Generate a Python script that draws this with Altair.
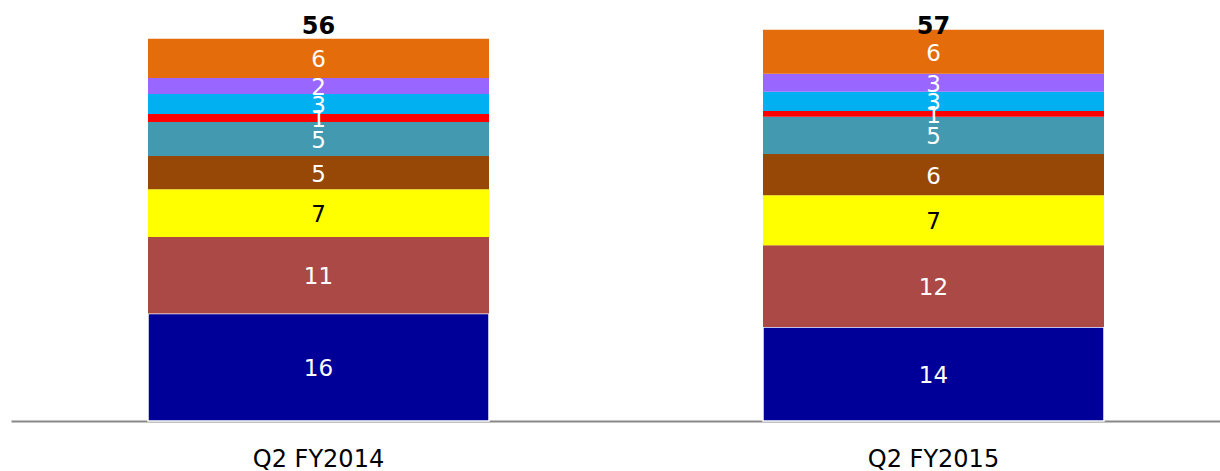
import altair as alt
import pandas as pd

categories = ["Q2 FY2014", "Q2 FY2015"]
series = ["S1", "S2", "S3", "S4", "S5", "S6", "S7", "S8", "S9"]
colors = ["#000099", "#AB4946", "#FFFF00", "#974706", "#4399B0",
          "#FF0000", "#00B0F0", "#9966FF", "#E46C0A"]
text_colors = ["white", "white", "black", "white", "white",
               "white", "white", "white", "white"]
values_2014 = [15.68, 11.18, 6.96, 4.86, 4.96, 1.17, 2.92, 2.34, 5.75]
values_2015 = [13.72, 11.93, 7.30, 6.03, 5.45, 0.82, 2.83, 2.63, 6.42]
labels_2014 = ["16", "11", "7", "5", "5", "1", "3", "2", "6"]
labels_2015 = ["14", "12", "7", "6", "5", "1", "3", "3", "6"]
totals = ["56", "57"]

rows = []
for cat, vals, labs in [(categories[0], values_2014, labels_2014),
                        (categories[1], values_2015, labels_2015)]:
    base = 0.0
    for i, (s, v, l) in enumerate(zip(series, vals, labs)):
        rows.append({"cat": cat, "series": s, "order": i, "y0": base,
                     "y1": base + v, "mid": base + v / 2, "label": l,
                     "tcolor": text_colors[i]})
        base += v
df = pd.DataFrame(rows)

tot_y = max(sum(values_2014), sum(values_2015)) + 0.4
df_tot = pd.DataFrame({"cat": categories, "label": totals, "y": [tot_y, tot_y]})

ymax = 421 / 6.85
xscale = alt.Scale(domain=categories, paddingInner=0.4455, paddingOuter=0.2057, align=0.5415)
yscale = alt.Scale(domain=[0, ymax], nice=False, zero=True)

x = alt.X("cat:N", scale=xscale, sort=categories,
          axis=alt.Axis(title=None, labelAngle=0, ticks=False, grid=False,
                        domainColor="#888888", domainWidth=2,
                        labelFont="DejaVu Sans", labelFontSize=24,
                        labelColor="#000000", labelPadding=26))

bars = alt.Chart(df).mark_bar().encode(
    x=x,
    y=alt.Y("y0:Q", scale=yscale, axis=None),
    y2="y1:Q",
    color=alt.Color("series:N", scale=alt.Scale(domain=series, range=colors), legend=None),
    stroke=alt.condition(alt.datum.series == "S1", alt.value("white"), alt.value("transparent")),
    strokeWidth=alt.value(1.5),
)

seg_text = alt.Chart(df).mark_text(font="DejaVu Sans", fontSize=23, baseline="middle", dy=2).encode(
    x=alt.X("cat:N", scale=xscale, sort=categories),
    y=alt.Y("mid:Q", scale=yscale, axis=None),
    text="label:N",
    color=alt.Color("tcolor:N", scale=None),
)

tot_text = alt.Chart(df_tot).mark_text(font="DejaVu Sans", fontSize=24, fontWeight="bold",
                                       baseline="middle", color="black").encode(
    x=alt.X("cat:N", scale=xscale, sort=categories),
    y=alt.Y("y:Q", scale=yscale, axis=None),
    text="label:N",
)

chart = alt.layer(bars, seg_text, tot_text).properties(
    width=1209, height=421,
    background="white",
    autosize=alt.AutoSizeParams(type="none"),
    padding={"left": 11, "top": 0, "right": 0, "bottom": 50},
).configure_view(strokeWidth=0, stroke="transparent")

chart.save("out.html", embed_options={"renderer": "svg", "actions": False})
